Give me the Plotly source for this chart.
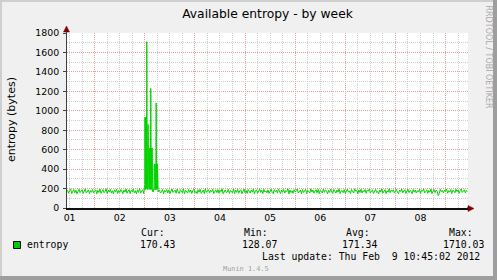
import plotly.graph_objects as go
import pandas as pd

# ---------------- data ----------------
# 30-minute samples, 2012-02-01 11:00 .. 2012-02-09 10:30
week_start = "2012-02-01 11:00"
week_values = [
    185,152,178,196,149,171,190,156,183,147,175,193,158,168,188,150,180,197,154,173,186,148,179,162,
    191,155,170,187,146,182,160,195,151,176,189,157,169,198,149,184,163,192,153,177,145,188,166,194,
    150,181,159,190,172,147,186,164,196,152,174,189,148,183,167,193,155,178,146,187,161,199,153,175,
    188,149,182,157,194,165,151,185,170,146,191,158,179,197,150,173,186,154,168,192,147,181,163,190,
    155,187,148,178,196,160,171,184,152,193,166,149,189,175,157,198,146,182,169,153,191,162,185,150,
    179,194,156,170,147,188,163,192,151,176,185,148,197,160,173,189,154,181,166,195,149,172,187,158,
    190,152,183,167,198,146,175,186,158,163,193,150,180,171,155,196,148,184,161,191,153,177,188,147,
    168,195,157,181,149,190,172,154,187,163,194,146,178,185,152,170,197,159,183,148,192,165,176,156,
    186,151,174,193,160,147,189,167,182,155,196,171,148,185,162,191,153,179,168,198,145,184,158,177,
    150,188,165,179,196,154,172,185,147,191,160,176,193,149,182,168,155,197,163,186,152,174,189,157,
    192,148,181,170,155,194,161,187,173,146,183,159,196,166,151,190,177,153,185,162,198,149,175,180,
    158,189,150,184,195,163,176,149,191,168,155,197,172,181,147,186,160,193,154,178,166,190,151,183,
    174,196,155,167,188,150,182,193,159,171,146,185,164,194,153,179,189,148,176,162,197,157,184,169,
    187,153,178,191,161,148,184,170,196,156,175,188,150,166,193,159,181,172,147,190,163,185,154,178,
    165,192,149,183,174,197,155,169,187,151,180,162,195,148,176,189,158,184,171,128,150,193,167,181,
    154,186,170,195,152,178,163,191,149,183,175,157,194,168,185,151,179,196,160,173,188,155,182,170,
]
# 5-minute samples of the burst, starting 2012-02-03 00:00
burst_start = "2012-02-03 00:00"
burst_values = [
    240,930,200,925,190,935,210,920,195,930,205,1710,1640,930,200,915,190,925,210,860,
    195,855,205,480,190,470,200,
    610,195,615,210,620,190,615,1230,1170,605,200,615,190,610,205,620,195,600,
    185,170,190,165,180,172,188,168,200,
    440,190,450,200,445,185,455,205,450,195,460,1080,1010,450,190,445,200,455,195,440,
    180,168,175,165,
]
day_labels = ["01", "02", "03", "04", "05", "06", "07", "08"]
series_name = "entropy"
stat_names = ["Cur:", "Min:", "Avg:", "Max:"]
stat_values = ["170.43", "128.07", "171.34", "1710.03"]
last_update = "Last update: Thu Feb\u00a0\u00a09 10:45:02 2012"
title = "Available entropy - by week"
y_title = "entropy (bytes)"
y_ticks = list(range(0, 1801, 200))

# ---------------- build series ----------------
wt = pd.date_range(week_start, periods=len(week_values), freq="30min")
bt = pd.date_range(burst_start, periods=len(burst_values), freq="5min")
w = pd.Series(week_values, index=wt)
w = w[(w.index < bt[0]) | (w.index > bt[-1])]
b = pd.Series(burst_values, index=bt)
s = pd.concat([w, b]).sort_index()

W, H = 497, 280
L, R, T, B = 67, 29, 33, 72
PW = W - L - R
PH = H - T - B


def px(x):
    return (x - L) / PW


def py(y):
    return (H - B - y) / PH


x_range = ["2012-02-01 10:45:02", "2012-02-09 10:45:02"]
six_h = pd.date_range("2012-02-01 12:00", "2012-02-09 06:00", freq="6h")
major_vals = [t for t in six_h if t.hour != 0]
major_text = []
for t in major_vals:
    if t.hour == 12:
        major_text.append(day_labels[t.day - 1])
    else:
        major_text.append("")
midnights = pd.date_range("2012-02-02 00:00", "2012-02-09 00:00", freq="1D")

fig = go.Figure()
fig.add_trace(go.Scatter(
    x=s.index, y=s.values, mode="lines",
    line=dict(color="#00D400", width=1), showlegend=False,
    hoverinfo="skip",
))

GRID = "#cfcfcf"
MGRID = "#e2a0a0"
axis_font = dict(family="DejaVu Sans", size=9.4, color="#000000")

fig.update_layout(
    width=W, height=H,
    margin=dict(l=L, r=R, t=T, b=B, pad=0),
    paper_bgcolor="#F0F0F0", plot_bgcolor="#FFFFFF",
    title=dict(text=title, x=0.5, xref="paper", xanchor="center",
               y=1 - 13.8 / H, yanchor="middle",
               font=dict(family="DejaVu Sans", size=12.3, color="#000000")),
    xaxis=dict(
        type="date", range=x_range, tickmode="array",
        tickvals=major_vals, ticktext=major_text,
        showgrid=True, gridcolor=GRID, griddash="1px,1px", gridwidth=1,
        ticks="", tickfont=axis_font,
        showline=True, linecolor="#101010", linewidth=2,
        zeroline=False, fixedrange=True,
        minor=dict(tickmode="array", tickvals=list(midnights), showgrid=True,
                   gridcolor=MGRID, griddash="1px,1px", gridwidth=1, ticks=""),
    ),
    yaxis=dict(
        range=[0, 1800], tickmode="array", tickvals=y_ticks,
        showgrid=True, gridcolor=MGRID, griddash="1px,1px", gridwidth=1,
        ticks="outside", ticklen=3, tickcolor="#404040", tickwidth=1,
        tickfont=axis_font, ticklabelstandoff=2,
        showline=True, linecolor="#404040", linewidth=1,
        zeroline=False, fixedrange=True,
        minor=dict(dtick=100, showgrid=True, gridcolor=GRID,
                   griddash="1px,1px", gridwidth=1, ticks=""),
    ),
)

shapes = []
# frame bevel
shapes.append(dict(type="rect", xref="paper", yref="paper", x0=px(0), x1=px(W), y0=py(0), y1=py(2),
                   fillcolor="#CFCFCF", line=dict(width=0)))
shapes.append(dict(type="rect", xref="paper", yref="paper", x0=px(0), x1=px(2), y0=py(0), y1=py(H),
                   fillcolor="#CFCFCF", line=dict(width=0)))
shapes.append(dict(type="rect", xref="paper", yref="paper", x0=px(493), x1=px(W), y0=py(0), y1=py(H),
                   fillcolor="#9E9E9E", line=dict(width=0)))
shapes.append(dict(type="rect", xref="paper", yref="paper", x0=px(0), x1=px(W), y0=py(276), y1=py(H),
                   fillcolor="#9E9E9E", line=dict(width=0)))
# axis arrows
shapes.append(dict(type="line", xref="paper", yref="paper", x0=px(66.5), x1=px(66.5), y0=py(33), y1=py(29),
                   line=dict(color="#404040", width=1)))
shapes.append(dict(type="path", xref="paper", yref="paper",
                   path=f"M {px(63.5)},{py(32)} L {px(66.5)},{py(26)} L {px(69.5)},{py(32)} Z",
                   fillcolor="#800000", line=dict(color="#800000", width=0.5)))
shapes.append(dict(type="line", xref="paper", yref="paper", x0=px(467), x1=px(470), y0=py(208.5), y1=py(208.5),
                   line=dict(color="#101010", width=2)))
shapes.append(dict(type="path", xref="paper", yref="paper",
                   path=f"M {px(468)},{py(205.5)} L {px(474)},{py(208.5)} L {px(468)},{py(211.5)} Z",
                   fillcolor="#800000", line=dict(color="#800000", width=0.5)))
# legend swatch
shapes.append(dict(type="rect", xref="paper", yref="paper", x0=px(13.5), x1=px(20.5), y0=py(241.5), y1=py(248.5),
                   fillcolor="#00CC00", line=dict(color="#000000", width=1)))
fig.update_layout(shapes=shapes)

mono = dict(family="DejaVu Sans Mono", size=9.8, color="#000000")
ann = []


def text(x, y, t, font, xanchor="left", angle=0):
    ann.append(dict(xref="paper", yref="paper", x=px(x), y=py(y), text=t, showarrow=False,
                    xanchor=xanchor, yanchor="middle", font=font, textangle=angle,
                    borderpad=0, align="left"))


text(11, 120, y_title, dict(family="DejaVu Sans", size=11, color="#000000"), xanchor="center", angle=-90)
text(488, 56.5, "RRDTOOL / TOBI OETIKER", dict(family="DejaVu Sans", size=8, color="#AAAAAA"),
     xanchor="center", angle=90)
text(26, 244.7, series_name, mono)
label_x = [140, 243, 345, 447.5]
value_x = [139, 240.5, 340.5, 441.5]
for i in range(4):
    text(label_x[i], 232.3, stat_names[i], mono)
    text(value_x[i], 244.7, stat_values[i], mono)
text(261, 256.7, last_update, mono)
text(246, 269, "Munin 1.4.5", dict(family="DejaVu Sans Mono", size=6.9, color="#A0A0A0"), xanchor="center")
fig.update_layout(annotations=ann)

fig.write_html("out.html")
